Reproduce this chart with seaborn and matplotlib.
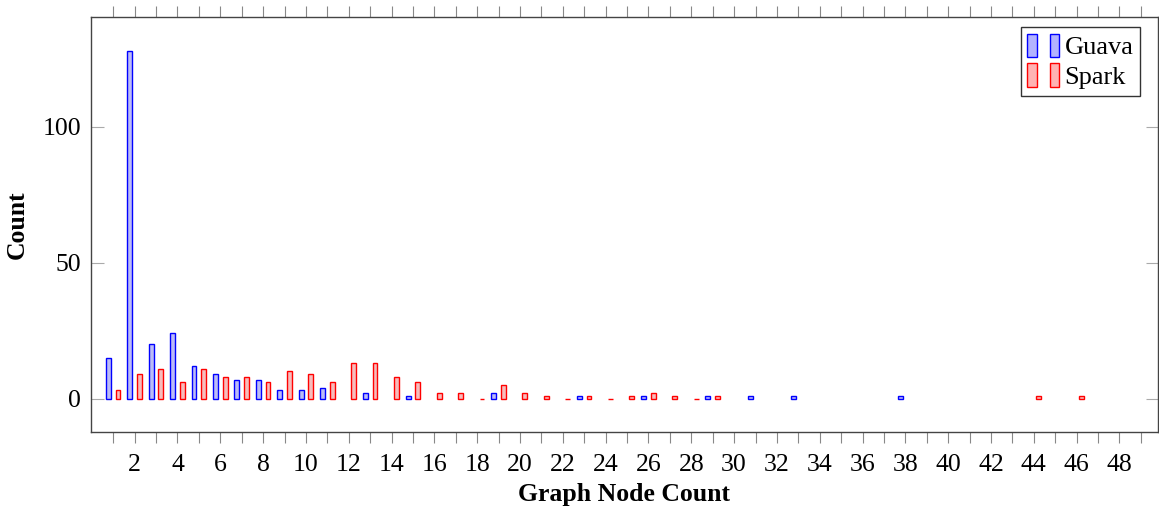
import numpy as np
import pandas as pd
import seaborn as sns
import matplotlib.pyplot as plt
from matplotlib.patches import Patch
from matplotlib.legend_handler import HandlerTuple

# node count -> number of graphs
guava_nodes = [1, 2, 3, 4, 5, 6, 7, 8, 9, 10, 11, 13, 15, 19, 23, 26, 29, 31, 33, 38]
guava_counts = [15, 128, 20, 24, 12, 9, 7, 7, 3, 3, 4, 2, 1, 2, 1, 1, 1, 1, 1, 1]
spark_nodes = [1, 2, 3, 4, 5, 6, 7, 8, 9, 10, 11, 12, 13, 14, 15, 16, 17, 18, 19, 20,
               21, 22, 23, 24, 25, 26, 27, 28, 29, 44, 46]
spark_counts = [3, 9, 11, 6, 11, 8, 8, 6, 10, 9, 6, 13, 13, 8, 6, 2, 2, 0, 5, 2,
                1, 0, 1, 0, 1, 2, 1, 0, 1, 1, 1]
series = ['Guava', 'Spark']
x_ticks = list(range(2, 49, 2))

df = pd.concat([
    pd.DataFrame({'nodes': guava_nodes, 'count': guava_counts, 'project': 'Guava'}),
    pd.DataFrame({'nodes': spark_nodes, 'count': spark_counts, 'project': 'Spark'}),
])

sns.set_style('white')
plt.rcParams['font.family'] = ['Liberation Serif', 'DejaVu Serif']
plt.rcParams['text.color'] = 'black'
plt.rcParams['axes.labelcolor'] = 'black'
plt.rcParams['xtick.labelcolor'] = 'black'
plt.rcParams['ytick.labelcolor'] = 'black'

fig = plt.figure(figsize=(11.59, 5.12), dpi=100)
ax = fig.add_axes([91 / 1159, 1 - 432 / 512, 1067 / 1159, 415 / 512])

fills = {'Guava': '#b3b3ff', 'Spark': '#ffb3b3'}
edges = {'Guava': '#0000ff', 'Spark': '#ff0000'}
sns.barplot(data=df, x='nodes', y='count', hue='project', hue_order=series,
            native_scale=True, dodge=True, width=0.9, gap=0.5,
            palette=fills, errorbar=None, ax=ax)
for cont, name in zip(ax.containers, series):
    for p in cont:
        p.set_edgecolor(edges[name])
        p.set_linewidth(1.0)

ax.set_xlim(-0.04, 49.8)
ax.set_ylim(-12.3, 140.5)
ax.set_xticks(x_ticks)
ax.set_xticks(range(1, 50, 2), minor=True)
ax.set_yticks([0, 50, 100])

fs = 18.5
ax.tick_params(axis='x', which='both', direction='out', length=8, width=0.8,
               color='#888888', top=True, bottom=True, labelsize=fs, pad=8,
               labelcolor='black')
ax.tick_params(axis='y', direction='in', length=9, width=0.8, color='#aaaaaa',
               left=True, right=True, labelsize=fs, pad=7, labelcolor='black')
for s in ax.spines.values():
    s.set_color('#444444')
    s.set_linewidth(1.0)

ax.set_xlabel('Graph Node Count', fontsize=fs, fontweight='bold', labelpad=5,
              color='black')
ax.set_ylabel('Count', fontsize=fs, fontweight='bold', labelpad=10, color='black')

handles = [(Patch(facecolor=fills[n], edgecolor=edges[n]),
            Patch(facecolor=fills[n], edgecolor=edges[n])) for n in series]
leg = ax.legend(handles, series, loc='upper right', bbox_to_anchor=(0.983, 0.976),
                borderaxespad=0, fontsize=19, frameon=True, fancybox=False,
                handler_map={tuple: HandlerTuple(ndivide=None, pad=0.5)},
                handlelength=1.2, handleheight=1.0, handletextpad=0.2,
                labelspacing=0.15, borderpad=0.25, labelcolor='black')
leg.get_frame().set_edgecolor('black')
leg.get_frame().set_linewidth(1.0)

fig.savefig('out.png', dpi=100)
